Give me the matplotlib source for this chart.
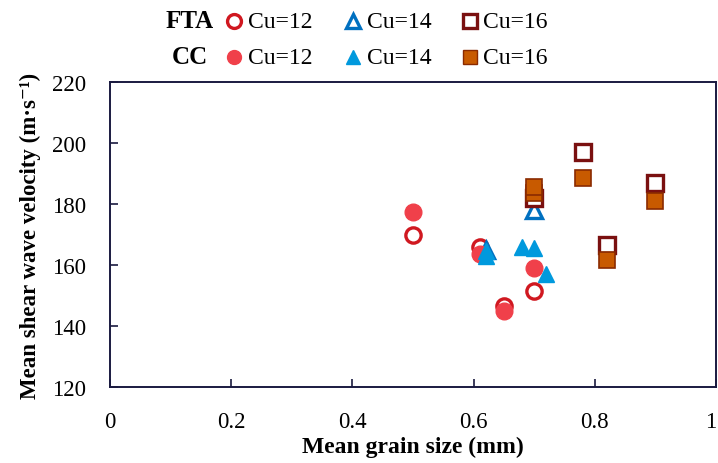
import matplotlib
matplotlib.use("Agg")
import matplotlib.pyplot as plt
from matplotlib.lines import Line2D

plt.rcParams['font.family'] = ['Liberation Serif', 'DejaVu Serif']

# FTA (open markers)
fta12_x = [0.50, 0.61, 0.65, 0.70]
fta12_y = [170, 166, 146.5, 151.5]
fta14_x = [0.62, 0.70]
fta14_y = [165, 178]
fta16_x = [0.70, 0.78, 0.82, 0.90]
fta16_y = [182, 197, 166.5, 187]

# CC (filled markers)
cc12_x = [0.50, 0.61, 0.65, 0.70]
cc12_y = [177.5, 163.5, 145, 159]
cc14_x = [0.62, 0.62, 0.68, 0.70, 0.72]
cc14_y = [164.5, 163, 166, 165.5, 157]
cc16_x = [0.70, 0.70, 0.78, 0.82, 0.90]
cc16_y = [183.5, 185.5, 188.5, 161.5, 181]

x_ticks = [0, 0.2, 0.4, 0.6, 0.8, 1.0]
x_tick_labels = ["0", "0.2", "0.4", "0.6", "0.8", "1"]
y_ticks = [120, 140, 160, 180, 200, 220]

red_edge = "#d01820"
red_fill = "#f0404a"
blue_edge = "#0070c0"
blue_fill = "#0099dd"
sq_edge_open = "#7a1010"
sq_fill = "#c85a00"
sq_edge_fill = "#8a2a00"

fig = plt.figure(figsize=(7.18, 4.64), dpi=100)
ax = fig.add_axes([110/718, 1-388/464, 606/718, 305/464])

ms = 11
ax.plot(fta12_x, fta12_y, 'o', ms=ms, mfc='white', mec=red_edge, mew=2.4, ls='none', zorder=3)
ax.plot(fta14_x, fta14_y, '^', ms=ms, mfc='white', mec=blue_edge, mew=2.4, ls='none', zorder=3)
ax.plot(fta16_x, fta16_y, 's', ms=ms, mfc='white', mec=sq_edge_open, mew=2.4, ls='none', zorder=3)
ax.plot(cc12_x, cc12_y, 'o', ms=ms+1, mfc=red_fill, mec=red_fill, mew=1, ls='none', zorder=4)
ax.plot(cc14_x, cc14_y, '^', ms=ms+1, mfc=blue_fill, mec=blue_fill, mew=1, ls='none', zorder=4)
ax.plot(cc16_x, cc16_y, 's', ms=ms, mfc=sq_fill, mec=sq_edge_fill, mew=1.2, ls='none', zorder=4)

ax.set_xlim(0, 1)
ax.set_ylim(120, 220)
ax.set_xticks(x_ticks)
ax.set_xticklabels(x_tick_labels)
ax.set_yticks(y_ticks)
ax.tick_params(direction='in', length=6, width=1.2, color='#1a1a40', labelsize=16.5)
ax.tick_params(axis='x', pad=17)
ax.tick_params(axis='y', pad=17)
ax.get_xticklabels()[-1].set_horizontalalignment('right')
for s in ax.spines.values():
    s.set_color('#1a1a40')
    s.set_linewidth(1.4)

ax.set_xlabel("Mean grain size (mm)", fontsize=17, fontweight='bold', labelpad=3)
ax.set_ylabel("Mean shear wave velocity (m·s⁻¹)", fontsize=16.5, fontweight='bold', labelpad=8)

# legend (manual)
rows = [("FTA", 1-22/464, True), ("CC", 1-58/464, False)]
cols = [(234, 248, 'o', "Cu=12"), (353, 367, '^', "Cu=14"), (470, 483, 's', "Cu=16")]
for label, yf, is_open in rows:
    fig.text(190/718, yf, label, fontsize=18, fontweight='bold', ha='center', va='center')
    for i, (mx, tx, mk, txt) in enumerate(cols):
        if is_open:
            ec = [red_edge, blue_edge, sq_edge_open][i]
            fc = 'white'
            mew = 2.4
        else:
            ec = [red_fill, blue_fill, sq_edge_fill][i]
            fc = [red_fill, blue_fill, sq_fill][i]
            mew = 1
        fig.add_artist(Line2D([mx/718], [yf], transform=fig.transFigure, marker=mk,
                              ms=10, mfc=fc, mec=ec, mew=mew, ls='none'))
        fig.text(tx/718, yf, txt, fontsize=17, ha='left', va='center')

fig.savefig("out.png", dpi=100)
